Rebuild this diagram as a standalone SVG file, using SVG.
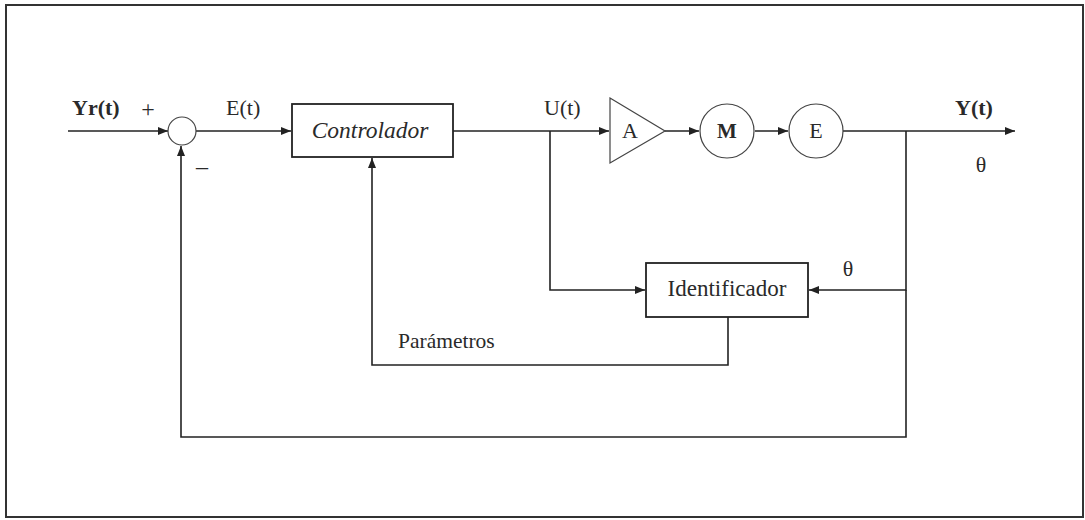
<svg xmlns="http://www.w3.org/2000/svg" width="1085" height="520" viewBox="0 0 1085 520">
<style>
.ln{fill:none;stroke:#222;stroke-width:1.6}
.bx{fill:#fff;stroke:#222;stroke-width:1.8}
.sh{fill:#fff;stroke:#444;stroke-width:1.2}
text{font-family:"Liberation Serif","Times New Roman",serif;font-size:22px;fill:#2a2a2a}
.b{font-weight:bold}
.c{text-anchor:middle}
</style>
<defs>
<marker id="ah" markerWidth="10" markerHeight="8" refX="10" refY="4" orient="auto" markerUnits="userSpaceOnUse">
<path d="M0,0 L10,4 L0,8 Z" fill="#222"/>
</marker>
</defs>
<rect x="6" y="5" width="1077" height="512" fill="#fff" stroke="#333" stroke-width="2"/>
<g id="connectors">
<line class="ln" x1="68" y1="131" x2="168" y2="131" marker-end="url(#ah)"/>
<line class="ln" x1="196" y1="131" x2="291" y2="131" marker-end="url(#ah)"/>
<line class="ln" x1="453" y1="131" x2="609" y2="131" marker-end="url(#ah)"/>
<line class="ln" x1="665" y1="131" x2="699" y2="131" marker-end="url(#ah)"/>
<line class="ln" x1="755" y1="131" x2="788" y2="131" marker-end="url(#ah)"/>
<line class="ln" x1="843" y1="131" x2="1015" y2="131" marker-end="url(#ah)"/>
<polyline class="ln" points="550,131 550,290 645,290" marker-end="url(#ah)"/>
<polyline class="ln" points="906,131 906,290 809,290" marker-end="url(#ah)"/>
<polyline class="ln" points="728,317 728,365 372,365 372,158" marker-end="url(#ah)"/>
<polyline class="ln" points="906,290 906,437 181,437 181,146" marker-end="url(#ah)"/>
</g>
<g id="sum"><circle class="sh" cx="182" cy="131" r="14"/></g>
<g id="controlador"><rect class="bx" x="292" y="104" width="161" height="53"/><text x="370" y="138" class="c" font-style="italic" style="font-size:23.5px">Controlador</text></g>
<g id="amp"><polygon class="sh" points="610,98 665,131 610,163"/><text x="630" y="138" class="c">A</text></g>
<g id="motor"><circle class="sh" cx="727" cy="131" r="27"/><text x="727" y="138" class="c" style="font-size:21px;font-weight:bold">M</text></g>
<g id="enc"><circle class="sh" cx="816" cy="131" r="27"/><text x="816" y="138" class="c">E</text></g>
<g id="identificador"><rect class="bx" x="646" y="263" width="162" height="54"/><text x="727" y="296" class="c" style="font-size:23px">Identificador</text></g>
<g id="labels">
<text x="72" y="115" class="b">Yr(t)</text>
<text x="148" y="117" class="c" style="font-size:24px">+</text>
<text x="202" y="174" class="c" style="font-size:24px">–</text>
<text x="226" y="115">E(t)</text>
<text x="544" y="115">U(t)</text>
<text x="955" y="115" class="b">Y(t)</text>
<text x="981" y="172" class="c">θ</text>
<text x="848" y="276" class="c">θ</text>
<text x="398" y="348" style="font-size:21.5px">Parámetros</text>
</g>
</svg>
